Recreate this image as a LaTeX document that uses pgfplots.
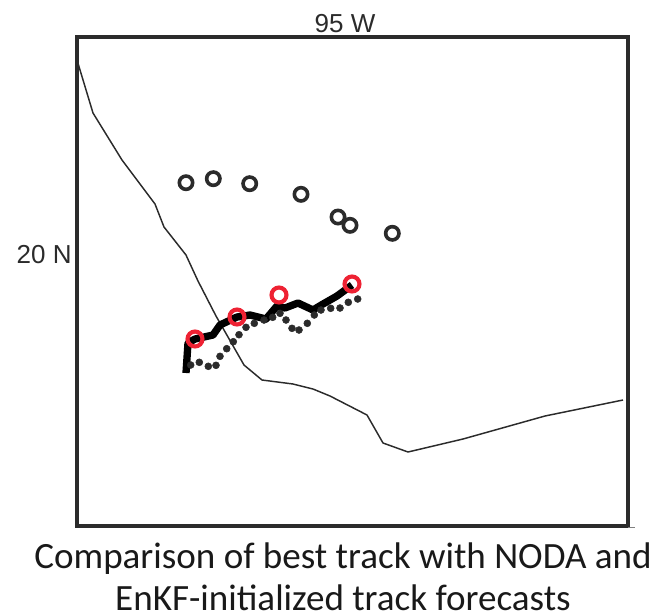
\documentclass[border=0pt]{standalone}
\usepackage{fontspec}
\setmainfont{Liberation Sans}
\newfontfamily\capfont{Carlito}
\usepackage{pgfplots}
\pgfplotsset{compat=1.18}
\definecolor{axisdark}{HTML}{2B2B2B}
\definecolor{trackred}{HTML}{EE2233}
\begin{document}
\begin{tikzpicture}[x=0.75pt,y=0.75pt]
\path[use as bounding box] (0,0) rectangle (656,-616);
\begin{axis}[
  at={(57.75pt,-27.75pt)}, anchor=north west,
  scale only axis, width=413.25pt, height=366.75pt,
  xmin=77, xmax=628, ymin=37, ymax=526, y dir=reverse,
  axis line style={draw=axisdark,line width=2.4pt},
  xtick={345}, xticklabels={95 W}, xticklabel pos=top,
  ytick={255}, yticklabels={20 N},
  tick style={draw=none}, major tick length=0pt,
  tick label style={font=\fontsize{19.5}{21}\selectfont,text=axisdark},
  xticklabel style={yshift=-0.5pt},
  yticklabel style={xshift=-0.5pt},
  clip=false,
]
% coastline
\addplot[draw=axisdark,line width=1.1pt,line join=round] coordinates {
(77,60)(93,113)(122,160)(155,204)(164,227)(186,255)(198,281)(216,316)(232,344)(244,365)(262,380)(293,384)(313,389)(330,396)(367,415)(383,443)(408,452)(463,439)(545,416)(623,400)};
% NODA / EnKF tracks
\addplot[only marks,mark=*,mark size=2.6pt,mark options={draw=axisdark,fill=axisdark}] coordinates {
(190.7,365)(199.3,362.3)(208.3,366.3)(216,365.3)(220,356.3)(226.7,348.7)(233.3,341.7)(239,334.7)(246,327.3)(254.3,323.3)(264,320)(272.7,317.3)(280,313.3)(286,320)(292,328.3)(299,330)(307.3,323.3)(314.3,315)(321,310)(330.7,308.3)(340,308)(348.3,302.3)(357.7,299)};
\addplot[draw=black,line width=5.5pt,line join=round] coordinates {
(186,373)(188,343)(195,339)(213,335)(220,325)(237,317)(250,315)(266,319)(277,306)(285,308)(298,303)(313,310)(323,304)(337,296)(352,285)};
% best track
\addplot[only marks,mark=o,mark size=5pt,mark options={draw=axisdark,line width=2.7pt}] coordinates {
(186,182.7)(213.3,178.7)(249.7,183.7)(301,194.3)(338,217)(350,225.3)(392.3,233.3)};
\addplot[only marks,mark=o,mark size=5.6pt,mark options={draw=trackred,line width=3.1pt}] coordinates {
(195,339)(237,317)(279,295)(352,284)};
% hairline past the lower right corner
\addplot[draw=gray,line width=0.5pt,forget plot] coordinates {(628,527)(635,527)};
\end{axis}
\node[anchor=base,font=\capfont\fontsize{27.8}{30}\selectfont,text=black!90] at (343,-568) {Comparison of best track with NODA and};
\node[anchor=base,font=\capfont\fontsize{27.8}{30}\selectfont,text=black!90] at (343,-610) {EnKF-initialized track forecasts};
\end{tikzpicture}
\end{document}
